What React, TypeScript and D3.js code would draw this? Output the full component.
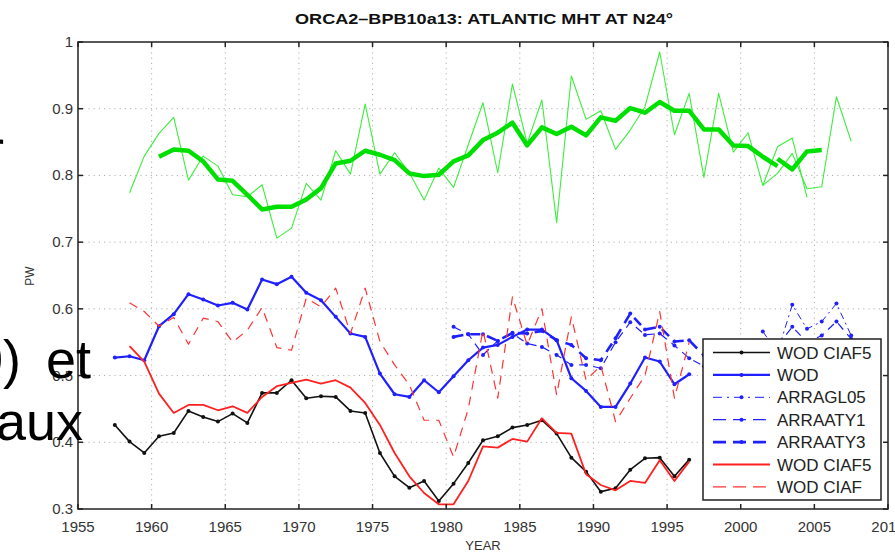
import React, { useEffect, useRef } from 'react';
import * as d3 from 'd3';

// --- chart data (annual values, first point sits at start year) ---
const TITLE = 'ORCA2–BPB10a13: ATLANTIC MHT AT N24°';
const xTicks = [1955, 1960, 1965, 1970, 1975, 1980, 1985, 1990, 1995, 2000, 2005, 2010];
const yTicks = [0.3, 0.4, 0.5, 0.6, 0.7, 0.8, 0.9, 1];

const greenThinStart = 1958.5;
const greenThin = [
  0.774, 0.829, 0.863, 0.887, 0.793, 0.829, 0.814, 0.771, 0.768, 0.786,
  0.706, 0.721, 0.788, 0.763, 0.837, 0.802, 0.907, 0.802, 0.834, 0.804,
  0.763, 0.811, 0.782, 0.846, 0.909, 0.804, 0.937, 0.848, 0.913, 0.729,
  0.949, 0.884, 0.897, 0.839, 0.868, 0.903, 0.985, 0.861, 0.923, 0.797,
  0.923, 0.835, 0.864, 0.785, 0.843, 0.856, 0.767,
];
const greenThin2Start = 2001.5;
const greenThin2 = [0.785, 0.803, 0.833, 0.780, 0.783, 0.918, 0.851];

const greenThickStart = 1960.5;
const greenThick = [
  0.828, 0.839, 0.837, 0.821, 0.794, 0.792, 0.771, 0.749, 0.753, 0.753,
  0.764, 0.781, 0.818, 0.822, 0.837, 0.831, 0.823, 0.803, 0.799, 0.801,
  0.821, 0.830, 0.853, 0.864, 0.879, 0.845, 0.872, 0.862, 0.873, 0.860,
  0.887, 0.882, 0.901, 0.894, 0.910, 0.897, 0.897, 0.869, 0.869, 0.845,
  0.844, 0.828, 0.814,
];
const greenThick2Start = 2002.5;
const greenThick2 = [0.825, 0.809, 0.836, 0.838];

const wodStart = 1957.5;
const wod = [
  0.527, 0.529, 0.523, 0.574, 0.592, 0.622, 0.614, 0.605, 0.609, 0.599, 0.644, 0.637, 0.648, 0.624,
  0.613, 0.588, 0.563, 0.558, 0.503, 0.472, 0.468, 0.493, 0.475, 0.499, 0.523, 0.542, 0.546, 0.558,
  0.569, 0.569, 0.553, 0.496, 0.477, 0.453, 0.453, 0.488, 0.527, 0.521, 0.487, 0.502,
];

const wodCiaf5BlackStart = 1957.5;
const wodCiaf5Black = [
  0.426, 0.401, 0.384, 0.409, 0.414, 0.447, 0.438, 0.431, 0.443, 0.429, 0.474, 0.474, 0.493, 0.466,
  0.469, 0.468, 0.447, 0.444, 0.384, 0.349, 0.332, 0.342, 0.312, 0.338, 0.369, 0.403, 0.409, 0.422,
  0.426, 0.433, 0.413, 0.377, 0.356, 0.326, 0.331, 0.359, 0.376, 0.377, 0.349, 0.374,
];

const wodCiaf5RedStart = 1958.5;
const wodCiaf5Red = [
  0.544, 0.521, 0.473, 0.444, 0.456, 0.456, 0.448, 0.454, 0.444, 0.468, 0.484, 0.489, 0.494,
  0.488, 0.493, 0.482, 0.459, 0.426, 0.384, 0.349, 0.324, 0.307, 0.307, 0.342, 0.394, 0.392, 0.405,
  0.401, 0.436, 0.414, 0.413, 0.352, 0.336, 0.328, 0.342, 0.339, 0.373, 0.342, 0.371,
];

const wodCiafStart = 1958.5;
const wodCiaf = [
  0.609, 0.596, 0.574, 0.587, 0.547, 0.586, 0.581, 0.550, 0.568, 0.602, 0.542, 0.538, 0.616,
  0.603, 0.631, 0.563, 0.631, 0.551, 0.516, 0.486, 0.433, 0.433, 0.378, 0.450, 0.568, 0.466, 0.618,
  0.546, 0.600, 0.471, 0.588, 0.493, 0.515, 0.431, 0.466, 0.500, 0.596, 0.466, 0.550,
];

const arraAty3Start = 1980.5;
const arraAty3 = [
  0.558, 0.562, 0.562, 0.552, 0.564, 0.563, 0.567, 0.553, 0.546, 0.526, 0.523, 0.556, 0.593,
  0.569, 0.573, 0.551, 0.553, 0.530,
];
const arraAty1Start = 1980.5;
const arraAty1 = [
  0.573, 0.562, 0.531, 0.552, 0.563, 0.548, 0.543, 0.531, 0.516, 0.516, 0.511, 0.550, 0.580,
  0.561, 0.563, 0.545, 0.526, 0.514,
];
const arraAty1bStart = 2002.5;
const arraAty1b = [0.545, 0.573, 0.550, 0.560, 0.581, 0.555];
const arraGl05Start = 2001.5;
const arraGl05 = [0.566, 0.535, 0.606, 0.570, 0.581, 0.608, 0.560];

const legendLabels = ['WOD CIAF5', 'WOD', 'ARRAGL05', 'ARRAATY1', 'ARRAATY3', 'WOD CIAF5', 'WOD CIAF'];

const toPts = (start: number, vals: number[]): [number, number][] =>
  vals.map((v, i) => [start + i, v]);

type Style = { color: string; width: number; dash?: string; marker?: boolean };

const BLUE = '#2020ff';
const RED = '#ff2020';
const sBlack: Style = { color: '#111', width: 1.6, marker: true };
const sWod: Style = { color: BLUE, width: 2.2, marker: true };
const sGl05: Style = { color: BLUE, width: 1, dash: '7,4,2,4', marker: true };
const sAty1: Style = { color: BLUE, width: 1.2, dash: '8,6', marker: true };
const sAty3: Style = { color: BLUE, width: 2.6, dash: '10,7', marker: true };
const sRed: Style = { color: RED, width: 1.8 };
const sRedDash: Style = { color: '#ff3333', width: 1.2, dash: '9,7' };

const App: React.FC = () => {
  const svgRef = useRef<SVGSVGElement | null>(null);

  useEffect(() => {
    if (!svgRef.current) return;
    const width = 895;
    const height = 552;
    const m = { left: 78, right: 888, top: 42, bottom: 509 };

    const svg = d3.select(svgRef.current);
    svg.selectAll('*').remove();
    svg.append('rect').attr('width', width).attr('height', height).attr('fill', '#fff');

    const x = d3.scaleLinear().domain([1955, 2010]).range([m.left, m.right]);
    const y = d3.scaleLinear().domain([0.3, 1]).range([m.bottom, m.top]);

    // grid (matlab dotted)
    const grid = svg.append('g').attr('stroke', '#b0b0b0').attr('stroke-width', 1).attr('stroke-dasharray', '1.2,4');
    xTicks.slice(1, -1).forEach(t => {
      grid.append('line').attr('x1', x(t)).attr('x2', x(t)).attr('y1', m.top).attr('y2', m.bottom);
    });
    yTicks.slice(1, -1).forEach(t => {
      grid.append('line').attr('x1', m.left).attr('x2', m.right).attr('y1', y(t)).attr('y2', y(t));
    });

    const line = d3.line<[number, number]>().x(d => x(d[0])).y(d => y(d[1]));
    const g = svg.append('g');

    const draw = (pts: [number, number][], s: Style) => {
      g.append('path').datum(pts)
        .attr('fill', 'none').attr('stroke', s.color).attr('stroke-width', s.width)
        .attr('stroke-linejoin', 'round')
        .attr('stroke-dasharray', s.dash || null)
        .attr('d', line);
      if (s.marker) {
        g.selectAll(null).data(pts).enter().append('circle')
          .attr('cx', d => x(d[0])).attr('cy', d => y(d[1])).attr('r', 2)
          .attr('fill', s.color);
      }
    };

    draw(toPts(wodCiaf5BlackStart, wodCiaf5Black), sBlack);
    draw(toPts(wodStart, wod), sWod);
    draw(toPts(arraGl05Start, arraGl05), sGl05);
    draw(toPts(arraAty1Start, arraAty1), sAty1);
    draw(toPts(arraAty1bStart, arraAty1b), sAty1);
    draw(toPts(arraAty3Start, arraAty3), sAty3);
    draw(toPts(wodCiaf5RedStart, wodCiaf5Red), sRed);
    draw(toPts(wodCiafStart, wodCiaf), sRedDash);
    draw(toPts(greenThinStart, greenThin), { color: '#3cee3c', width: 1.1 });
    draw(toPts(greenThin2Start, greenThin2), { color: '#3cee3c', width: 1.1 });
    draw(toPts(greenThickStart, greenThick), { color: '#00e000', width: 4.5 });
    draw(toPts(greenThick2Start, greenThick2), { color: '#00e000', width: 4.5 });

    // axes box with inward ticks
    const ax = svg.append('g').attr('stroke', '#222').attr('stroke-width', 1.5);
    ax.append('rect').attr('x', m.left).attr('y', m.top)
      .attr('width', m.right - m.left).attr('height', m.bottom - m.top).attr('fill', 'none');
    xTicks.forEach(t => {
      ax.append('line').attr('x1', x(t)).attr('x2', x(t)).attr('y1', m.bottom).attr('y2', m.bottom - 5);
      ax.append('line').attr('x1', x(t)).attr('x2', x(t)).attr('y1', m.top).attr('y2', m.top + 5);
    });
    yTicks.forEach(t => {
      ax.append('line').attr('x1', m.left).attr('x2', m.left + 5).attr('y1', y(t)).attr('y2', y(t));
      ax.append('line').attr('x1', m.right).attr('x2', m.right - 5).attr('y1', y(t)).attr('y2', y(t));
    });

    const font = 'Liberation Sans, Arial, Helvetica, sans-serif';
    svg.append('g').selectAll('text').data(xTicks).enter().append('text')
      .attr('x', d => x(d)).attr('y', 532).attr('text-anchor', 'middle')
      .attr('font-family', font).attr('font-size', 15).attr('fill', '#333')
      .text(d => d);
    svg.append('g').selectAll('text').data(yTicks).enter().append('text')
      .attr('x', 73).attr('y', d => y(d) + 5).attr('text-anchor', 'end')
      .attr('font-family', font).attr('font-size', 15).attr('fill', '#333')
      .text(d => (d === 1 ? '1' : d.toFixed(1)));

    svg.append('text').attr('x', 484).attr('y', 24).attr('text-anchor', 'middle')
      .attr('font-family', font).attr('font-weight', 'bold').attr('font-size', 15)
      .attr('textLength', 378).attr('lengthAdjust', 'spacingAndGlyphs')
      .attr('fill', '#111').text(TITLE);
    svg.append('text').attr('x', 483).attr('y', 550).attr('text-anchor', 'middle')
      .attr('font-family', font).attr('font-size', 13).attr('fill', '#333').text('YEAR');
    svg.append('text').attr('transform', 'translate(34,276) rotate(-90)').attr('text-anchor', 'middle')
      .attr('font-family', font).attr('font-size', 12).attr('fill', '#333').text('PW');

    // legend
    const lg = svg.append('g');
    lg.append('rect').attr('x', 703).attr('y', 339).attr('width', 178).attr('height', 161)
      .attr('fill', '#fff').attr('stroke', '#222').attr('stroke-width', 1.5);
    const legStyles = [sBlack, sWod, sGl05, sAty1, sAty3, sRed, sRedDash];
    legendLabels.forEach((lab, i) => {
      const ly = 352.5 + i * 22.4;
      const s = legStyles[i];
      lg.append('line').attr('x1', 713).attr('x2', 770).attr('y1', ly).attr('y2', ly)
        .attr('stroke', s.color).attr('stroke-width', s.width)
        .attr('stroke-dasharray', s.dash ? (s.dash.split(',').length > 2 ? '9,5,2,5' : '13,7') : null);
      if (s.marker) lg.append('circle').attr('cx', 741.5).attr('cy', ly).attr('r', 2).attr('fill', s.color);
      lg.append('text').attr('x', 777).attr('y', ly + 6)
        .attr('font-family', font).attr('font-size', 17).attr('fill', '#222').text(lab);
    });

    // slide text behind the figure, showing at the left edge
    const slide = svg.append('g').attr('font-family', font).attr('font-size', 54).attr('fill', '#000');
    slide.append('text').attr('x', -14).attr('y', 168).text('r');
    slide.append('text').attr('x', -27).attr('y', 378).text('0)');
    slide.append('text').attr('x', 46).attr('y', 378).text('et');
    slide.append('text').attr('x', -4).attr('y', 440).text('aux');
  }, []);

  return (
    <svg ref={svgRef} width={895} height={552}
      style={{ position: 'absolute', left: 0, top: 0, display: 'block' }} />
  );
};

export default App;
